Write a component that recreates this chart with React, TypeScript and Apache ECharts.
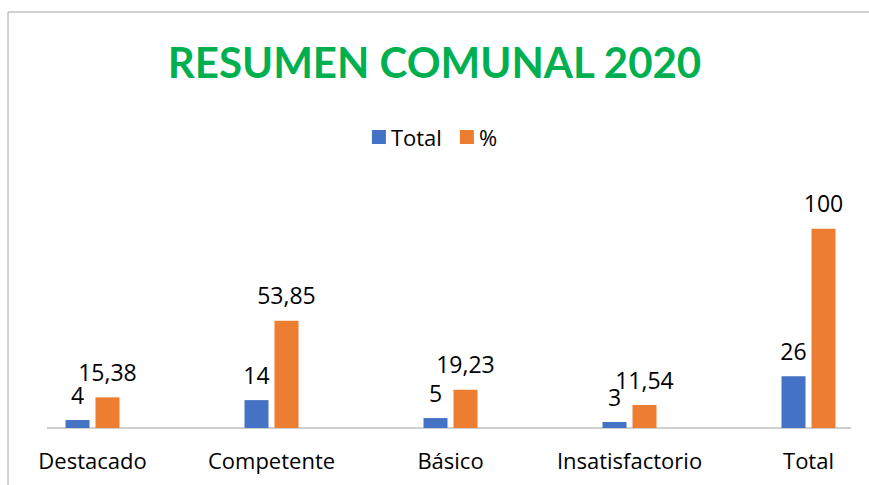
import React, { useEffect, useRef } from "react";
import * as echarts from "echarts";

const categories = ["Destacado", "Competente", "Básico", "Insatisfactorio", "Total"];
const totalValues = [4, 14, 5, 3, 26];
const percentValues = [15.38, 53.85, 19.23, 11.54, 100];
const seriesNames = ["Total", "%"];
const titleText = "RESUMEN COMUNAL 2020";

const fmt = (v: number) => String(v).replace(".", ",");

export default function App() {
  const ref = useRef<HTMLDivElement>(null);
  useEffect(() => {
    if (!ref.current) return;
    const chart = echarts.init(ref.current, undefined, { renderer: "svg" });
    const titleFont = "Lato, 'Open Sans', sans-serif";
    const font = "'Open Sans', 'Noto Sans', sans-serif";
    const labelStyle = {
      show: true,
      position: "top" as const,
      distance: 14,
      fontFamily: font,
      fontSize: 23,
      color: "#000",
      formatter: (p: any) => fmt(p.value),
    };
    chart.setOption({
      animation: false,
      backgroundColor: "#fff",
      title: {
        text: titleText,
        left: "center",
        top: 36,
        textStyle: {
          fontFamily: titleFont,
          fontSize: 42,
          fontWeight: "bold",
          color: "#00B050",
        },
      },
      legend: {
        data: seriesNames,
        top: 121,
        left: "center",
        itemWidth: 14,
        itemHeight: 14,
        itemGap: 18,
        icon: "rect",
        textStyle: { fontFamily: font, fontSize: 22, color: "#000" },
      },
      grid: {
        left: 3,
        right: -29,
        top: 189,
        bottom: 57,
        outerBoundsMode: "none",
        containLabel: false,
      },
      xAxis: {
        type: "category",
        data: categories,
        axisLine: { show: false },
        axisTick: { show: false },
        axisLabel: {
          interval: 0,
          fontFamily: font,
          fontSize: 22,
          color: "#000",
          margin: 21,
        },
      },
      yAxis: {
        type: "value",
        min: 0,
        max: 120,
        show: false,
        splitLine: { show: false },
      },
      graphic: [
        {
          type: "rect",
          shape: { x: 8, y: 12, width: 1000, height: 600 },
          style: { fill: "none", stroke: "#a6a6a6", lineWidth: 1 },
          silent: true,
        },
        {
          type: "line",
          shape: { x1: 47, y1: 428, x2: 851, y2: 428 },
          style: { stroke: "#bfbfbf", lineWidth: 1.5 },
          silent: true,
          z: 0,
        },
      ],
      series: [
        {
          name: seriesNames[0],
          type: "bar",
          data: totalValues,
          barWidth: 24,
          barGap: "25%",
          itemStyle: { color: "#4472C4" },
          label: labelStyle,
          z: 3,
        },
        {
          name: seriesNames[1],
          type: "bar",
          data: percentValues,
          barWidth: 24,
          itemStyle: { color: "#ED7D31" },
          label: labelStyle,
          z: 3,
        },
      ],
    });
    return () => chart.dispose();
  }, []);
  return (
    <div
      ref={ref}
      style={{ position: "fixed", left: 0, top: 0, width: 869, height: 485 }}
    />
  );
}
